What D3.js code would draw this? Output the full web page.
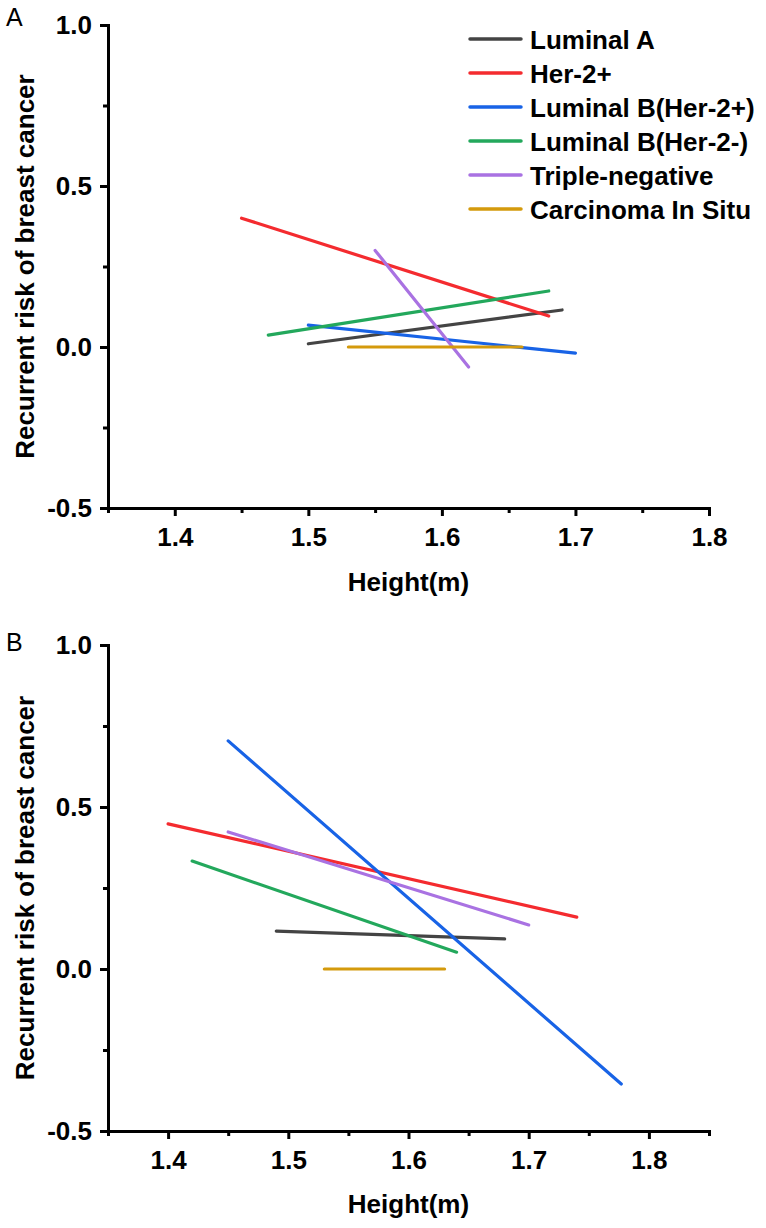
<!DOCTYPE html>
<html>
<head>
<meta charset="utf-8">
<script src="https://cdn.jsdelivr.net/npm/d3@7"></script>
<style>
  body { margin: 0; background: #fff; }
  svg { display: block; }
  text { font-family: "Liberation Sans", Arial, sans-serif; }
</style>
</head>
<body>
<svg id="chart" width="766" height="1228"></svg>
<script>
// ---- data ----
const seriesNames = ["Luminal A", "Her-2+", "Luminal B(Her-2+)", "Luminal B(Her-2-)", "Triple-negative", "Carcinoma In Situ"];
const seriesColors = ["#444444", "#f42b2f", "#1863e6", "#23a85c", "#a972e2", "#d49a0c"];

// Panel A: [start, end] height (m) and recurrent risk per series
const heightA = [[1.50, 1.69], [1.45, 1.68], [1.50, 1.70], [1.47, 1.68], [1.55, 1.62], [1.53, 1.66]];
const riskA   = [[0.010, 0.115], [0.400, 0.096], [0.068, -0.019], [0.037, 0.174], [0.300, -0.062], [0.000, 0.000]];

// Panel B
const heightB = [[1.49, 1.68], [1.40, 1.74], [1.45, 1.777], [1.42, 1.64], [1.45, 1.70], [1.53, 1.63]];
const riskB   = [[0.117, 0.093], [0.448, 0.160], [0.704, -0.355], [0.333, 0.052], [0.423, 0.136], [0.000, 0.000]];

const xTicksA = [1.4, 1.5, 1.6, 1.7, 1.8];
const xMinorA = [1.35, 1.45, 1.55, 1.65, 1.75];
const xTicksB = [1.4, 1.5, 1.6, 1.7, 1.8];
const xMinorB = [1.35, 1.45, 1.55, 1.65, 1.75, 1.85];
const yTicks = [-0.5, 0.0, 0.5, 1.0];
const yMinor = [-0.25, 0.25, 0.75];

const svg = d3.select("#chart");
const FONT = 26;

function drawPanel(opts) {
  const { label, top, bottom, xDomain, xT, xM, heights, risks, showLegend, labelY, xTitleY } = opts;
  const left = 108, right = 709;
  const x = d3.scaleLinear().domain(xDomain).range([left, right]);
  const y = d3.scaleLinear().domain([-0.5, 1.0]).range([bottom, top]);
  const g = svg.append("g");
  const fmt = v => v.toFixed(1);

  // x axis
  const xAxis = g.append("g").attr("transform", `translate(0,${bottom})`)
    .call(d3.axisBottom(x).tickValues(xT).tickFormat(fmt).tickSize(8).tickSizeOuter(0).tickPadding(12));
  const xMinorAxis = g.append("g").attr("transform", `translate(0,${bottom})`)
    .call(d3.axisBottom(x).tickValues(xM).tickFormat("").tickSize(5).tickSizeOuter(0));
  xMinorAxis.select(".domain").remove();

  // y axis
  const yAxis = g.append("g").attr("transform", `translate(${left},0)`)
    .call(d3.axisLeft(y).tickValues(yTicks).tickFormat(fmt).tickSize(8).tickSizeOuter(0).tickPadding(8));
  const yMinorAxis = g.append("g").attr("transform", `translate(${left},0)`)
    .call(d3.axisLeft(y).tickValues(yMinor).tickFormat("").tickSize(5).tickSizeOuter(0));
  yMinorAxis.select(".domain").remove();

  g.selectAll(".domain").attr("stroke", "#000").attr("stroke-width", 3).attr("stroke-linecap", "square");
  g.selectAll(".tick line").attr("stroke", "#000").attr("stroke-width", 3);
  g.selectAll(".tick text").attr("font-size", FONT).attr("font-weight", "bold")
    .attr("font-family", "'Liberation Sans', Arial, sans-serif").attr("fill", "#000");

  // lines
  const line = d3.line().x(d => x(d[0])).y(d => y(d[1]));
  heights.forEach((h, i) => {
    const pts = [[h[0], risks[i][0]], [h[1], risks[i][1]]];
    g.append("path").attr("d", line(pts)).attr("fill", "none")
      .attr("stroke", seriesColors[i]).attr("stroke-width", 3.2).attr("stroke-linecap", "round");
  });

  // titles
  g.append("text").attr("x", (left + right) / 2).attr("y", xTitleY)
    .attr("text-anchor", "middle").attr("font-size", FONT).attr("font-weight", "bold")
    .text("Height(m)");
  g.append("text").attr("transform", `translate(34,${(top + bottom) / 2}) rotate(-90)`)
    .attr("text-anchor", "middle").attr("font-size", FONT).attr("font-weight", "bold")
    .text("Recurrent risk of breast cancer");

  // panel label
  g.append("text").attr("x", 6).attr("y", labelY).attr("font-size", 25)
    .attr("font-family", "'Liberation Sans', Arial, sans-serif").text(label);

  if (showLegend) {
    const lg = g.append("g");
    seriesNames.forEach((n, i) => {
      const ry = 39 + i * 34;
      lg.append("line").attr("x1", 470).attr("x2", 521).attr("y1", ry).attr("y2", ry)
        .attr("stroke", seriesColors[i]).attr("stroke-width", 3.5).attr("stroke-linecap", "round");
      lg.append("text").attr("x", 530).attr("y", ry + 9.5).attr("font-size", FONT)
        .attr("font-weight", "bold").text(n);
    });
  }
}

drawPanel({ label: "A", top: 25, bottom: 508, xDomain: [1.35, 1.8], xT: xTicksA, xM: xMinorA,
  heights: heightA, risks: riskA, showLegend: true, labelY: 26, xTitleY: 591 });
drawPanel({ label: "B", top: 645, bottom: 1131, xDomain: [1.35, 1.85], xT: xTicksB, xM: xMinorB,
  heights: heightB, risks: riskB, showLegend: false, labelY: 651, xTitleY: 1213 });
</script>
</body>
</html>
